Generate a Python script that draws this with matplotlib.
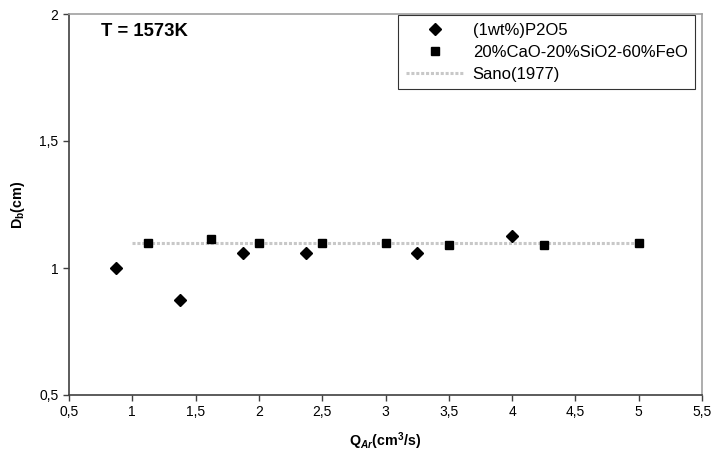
import matplotlib
matplotlib.use("Agg")
import matplotlib.pyplot as plt
from matplotlib.ticker import FuncFormatter, MultipleLocator

plt.rcParams["font.family"] = ["Liberation Sans", "DejaVu Sans"]
plt.rcParams["mathtext.fontset"] = "custom"
plt.rcParams["mathtext.rm"] = "Liberation Sans:bold"
plt.rcParams["mathtext.it"] = "Liberation Sans:bold:italic"
plt.rcParams["mathtext.bf"] = "Liberation Sans:bold"

# data
p2o5_q = [0.875, 1.375, 1.875, 2.375, 3.25, 4.0]
p2o5_db = [1.0, 0.875, 1.06, 1.06, 1.06, 1.125]

slag_q = [1.125, 1.625, 2.0, 2.5, 3.0, 3.5, 4.25, 5.0]
slag_db = [1.10, 1.115, 1.10, 1.10, 1.10, 1.09, 1.09, 1.10]

sano_q = [1.0, 5.0]
sano_db = [1.10, 1.10]

tick_font = 10
label_font = 10.3
legend_font = 12

fig = plt.figure(figsize=(7.14, 4.59), dpi=100)
ax = fig.add_axes([69 / 714, 64 / 459, 633 / 714, 381 / 459])

ax.plot(sano_q, sano_db, color="#c8c8c8", linewidth=2.2, linestyle=(0, (1, 0.6)),
        label="Sano(1977)", zorder=1)
ax.plot(p2o5_q, p2o5_db, linestyle="none", marker="D", markersize=6.5,
        color="black", label="(1wt%)P2O5", zorder=3)
ax.plot(slag_q, slag_db, linestyle="none", marker="s", markersize=5.5,
        color="black", label="20%CaO-20%SiO2-60%FeO", zorder=3)

ax.set_xlim(0.5, 5.5)
ax.set_ylim(0.5, 2.0)
ax.xaxis.set_major_locator(MultipleLocator(0.5))
ax.yaxis.set_major_locator(MultipleLocator(0.5))
comma = FuncFormatter(lambda v, pos: f"{v:g}".replace(".", ","))
ax.xaxis.set_major_formatter(comma)
ax.yaxis.set_major_formatter(comma)
ax.tick_params(axis="both", direction="out", length=4, width=1, labelsize=tick_font,
               color="#404040")

for side in ["left", "bottom"]:
    ax.spines[side].set_color("#404040")
    ax.spines[side].set_linewidth(1.2)
for side in ["top", "right"]:
    ax.spines[side].set_color("#a0a0a0")
    ax.spines[side].set_linewidth(1.2)

ax.set_xlabel(r"Q$_{Ar}$(cm$^{3}$/s)", fontsize=label_font, fontweight="bold", labelpad=8)
ax.set_ylabel(r"D$_{\mathrm{b}}$(cm)", fontsize=label_font, fontweight="bold", labelpad=9)

ax.text(0.0506, 0.953, "T = 1573K", transform=ax.transAxes, fontsize=13.3,
        fontweight="bold", va="center", ha="left")

handles, labels = ax.get_legend_handles_labels()
order = [1, 2, 0]
leg = ax.legend([handles[i] for i in order], [labels[i] for i in order],
                loc="upper right", bbox_to_anchor=(0.989, 0.997), borderaxespad=0,
                fontsize=legend_font, fancybox=False, handlelength=3.5,
                handletextpad=0.5, borderpad=0.45, labelspacing=0.42)
leg.get_frame().set_edgecolor("black")
leg.get_frame().set_linewidth(0.8)

plt.savefig("out.png", dpi=100)
